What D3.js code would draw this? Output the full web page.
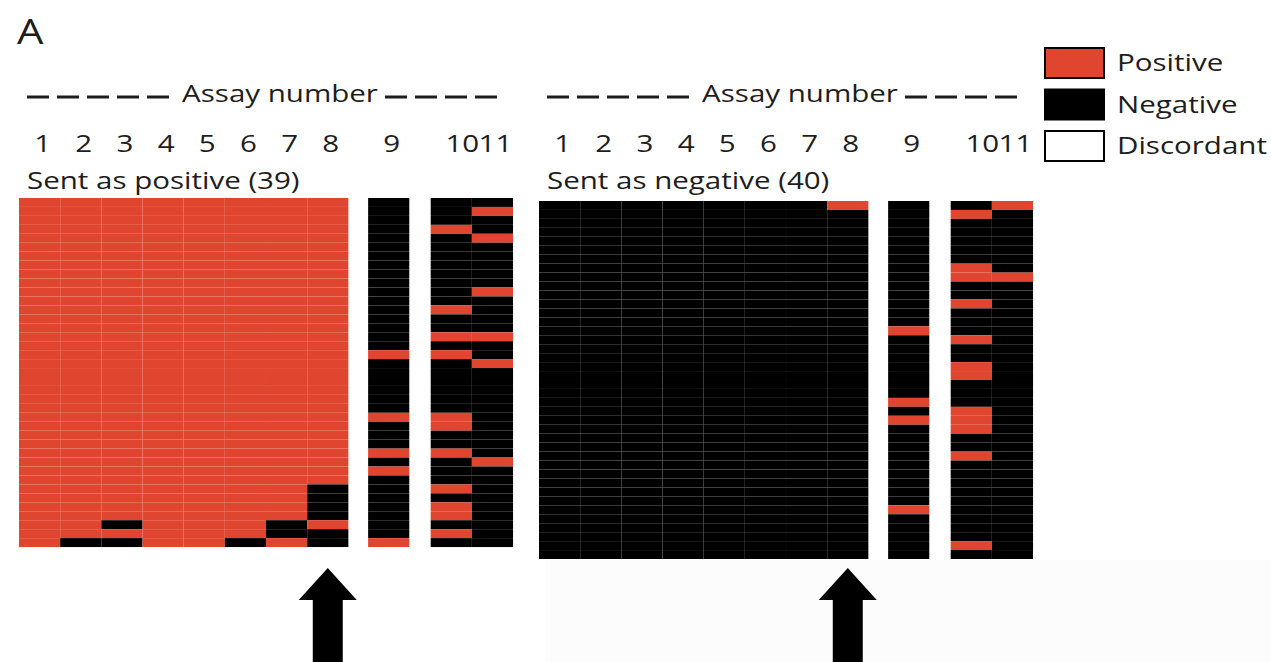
<!DOCTYPE html>
<html>
<head>
<meta charset="utf-8">
<script src="https://cdn.jsdelivr.net/npm/d3@7"></script>
<style>
  body { margin: 0; background: #fff; }
  text { font-family: "Open Sans", sans-serif; fill: #1d1d1d; }
</style>
</head>
<body>
<div id="chart"></div>
<script>
// assay columns and results per sample row (P = positive, N = negative)
const assays = ["1", "2", "3", "4", "5", "6", "7", "8", "9", "10", "11"];

const sentPositive = [
  "PPPPPPPPNNN", "PPPPPPPPNNP", "PPPPPPPPNNN", "PPPPPPPPNPN", "PPPPPPPPNNP",
  "PPPPPPPPNNN", "PPPPPPPPNNN", "PPPPPPPPNNN", "PPPPPPPPNNN", "PPPPPPPPNNN",
  "PPPPPPPPNNP", "PPPPPPPPNNN", "PPPPPPPPNPN", "PPPPPPPPNNN", "PPPPPPPPNNN",
  "PPPPPPPPNPP", "PPPPPPPPNNN", "PPPPPPPPPPN", "PPPPPPPPNNP", "PPPPPPPPNNN",
  "PPPPPPPPNNN", "PPPPPPPPNNN", "PPPPPPPPNNN", "PPPPPPPPNNN", "PPPPPPPPPPN",
  "PPPPPPPPNPN", "PPPPPPPPNNN", "PPPPPPPPNNN", "PPPPPPPPPPN", "PPPPPPPPNNP",
  "PPPPPPPPPNN", "PPPPPPPPNNN", "PPPPPPPNNPN", "PPPPPPPNNNN", "PPPPPPPNNPN",
  "PPPPPPPNNPN", "PPNPPPNPNNN", "PPPPPPNNNPN", "PNNPPNPNPNN"
];

const sentNegative = [
  "NNNNNNNPNNP", "NNNNNNNNNPN", "NNNNNNNNNNN", "NNNNNNNNNNN", "NNNNNNNNNNN",
  "NNNNNNNNNNN", "NNNNNNNNNNN", "NNNNNNNNNPN", "NNNNNNNNNPP", "NNNNNNNNNNN",
  "NNNNNNNNNNN", "NNNNNNNNNPN", "NNNNNNNNNNN", "NNNNNNNNNNN", "NNNNNNNNPNN",
  "NNNNNNNNNPN", "NNNNNNNNNNN", "NNNNNNNNNNN", "NNNNNNNNNPN", "NNNNNNNNNPN",
  "NNNNNNNNNNN", "NNNNNNNNNNN", "NNNNNNNNPNN", "NNNNNNNNNPN", "NNNNNNNNPPN",
  "NNNNNNNNNPN", "NNNNNNNNNNN", "NNNNNNNNNNN", "NNNNNNNNNPN", "NNNNNNNNNNN",
  "NNNNNNNNNNN", "NNNNNNNNNNN", "NNNNNNNNNNN", "NNNNNNNNNNN", "NNNNNNNNPNN",
  "NNNNNNNNNNN", "NNNNNNNNNNN", "NNNNNNNNNNN", "NNNNNNNNNPN", "NNNNNNNNNNN"
];

const panelTitles = ["Sent as positive (39)", "Sent as negative (40)"];
const legendLabels = ["Positive", "Negative", "Discordant"];

const width = 1271, height = 662;
const red = "#e0452f";
const colorOf = { P: red, N: "#000" };
const stretch = 1.23; // the figure text is a bit wide

// column slot positions (gaps after assay 8 and 9)
const slots = [0, 1, 2, 3, 4, 5, 6, 7, 8.48, 10, 11];
const colW = 41.17;
const rowH = 8.95;

const svg = d3.select("#chart").append("svg")
    .attr("width", width)
    .attr("height", height);

function label(sel, x, y, size, txt, anchor) {
    return sel.append("text")
        .attr("transform", "translate(" + x + "," + y + ") scale(" + stretch + ",1)")
        .attr("text-anchor", anchor || "start")
        .style("font-size", size + "px")
        .text(txt);
}

// faint off-white patch at lower right of the original figure
svg.append("rect")
    .attr("x", 545).attr("y", 560)
    .attr("width", width - 545).attr("height", height - 560)
    .attr("fill", "#fcfcfc");

label(svg, 17, 44, 34, "A");

const panels = [
  { rows: sentPositive, left: 19, top: 198 },
  { rows: sentNegative, left: 539, top: 201 }
];

panels.forEach(function(p, pi) {
    const x = d3.scaleLinear().domain([0, 12]).range([p.left, p.left + 12 * colW]);
    const y = d3.scaleBand()
        .domain(d3.range(p.rows.length))
        .range([p.top, p.top + p.rows.length * rowH]);

    const g = svg.append("g").attr("class", "panel");

    // "Assay number" header with dashes
    const midX = x(0) + 261;
    label(g, midX, 102, 24, "Assay number", "middle");
    const dashes = [];
    for (let i = 0; i < 5; i++) dashes.push(x(0) + 8 + i * 30);
    for (let i = 0; i < 4; i++) dashes.push(midX + 105 + i * 30);
    g.selectAll(".dash")
        .data(dashes)
        .enter().append("line")
        .attr("class", "dash")
        .attr("x1", d => d).attr("x2", d => d + 22)
        .attr("y1", 97).attr("y2", 97)
        .attr("stroke", "#1d1d1d")
        .attr("stroke-width", 3);

    // column numbers
    assays.forEach(function(d, i) {
        label(g, x(slots[i] + 0.5) + (d === "10" ? 11 : 3), 152, 24, d, "middle");
    });

    label(g, x(0) + 8, 189, 24, panelTitles[pi]);

    // cells
    const cells = [];
    p.rows.forEach(function(r, ri) {
        r.split("").forEach(function(v, ci) {
            cells.push({ row: ri, col: ci, v: v });
        });
    });
    g.selectAll(".cell")
        .data(cells)
        .enter().append("rect")
        .attr("class", "cell")
        .attr("x", d => x(slots[d.col]))
        .attr("y", d => y(d.row))
        .attr("width", colW)
        .attr("height", y.bandwidth())
        .attr("fill", d => colorOf[d.v])
        .attr("stroke", "rgba(255,255,255,0.025)")
        .attr("stroke-width", 0.6);

    // arrow under assay 8
    const ax = x(slots[7] + 0.5);
    g.append("path")
        .attr("d", d3.line()([
            [ax, 568], [ax + 29, 600], [ax + 15, 600], [ax + 15, 670],
            [ax - 15, 670], [ax - 15, 600], [ax - 29, 600]
        ]) + "Z")
        .attr("fill", "#000");
});

// legend
const lg = svg.append("g").attr("transform", "translate(1045,48)");
const legendFill = [red, "#000", "#fff"];
lg.selectAll("rect")
    .data(legendLabels)
    .enter().append("rect")
    .attr("x", 0)
    .attr("y", (d, i) => i * 41.5)
    .attr("width", 59)
    .attr("height", 30)
    .attr("fill", (d, i) => legendFill[i])
    .attr("stroke", "#000")
    .attr("stroke-width", 2);
legendLabels.forEach(function(d, i) {
    label(lg, 72, i * 41.5 + 23, 24, d);
});
</script>
</body>
</html>
